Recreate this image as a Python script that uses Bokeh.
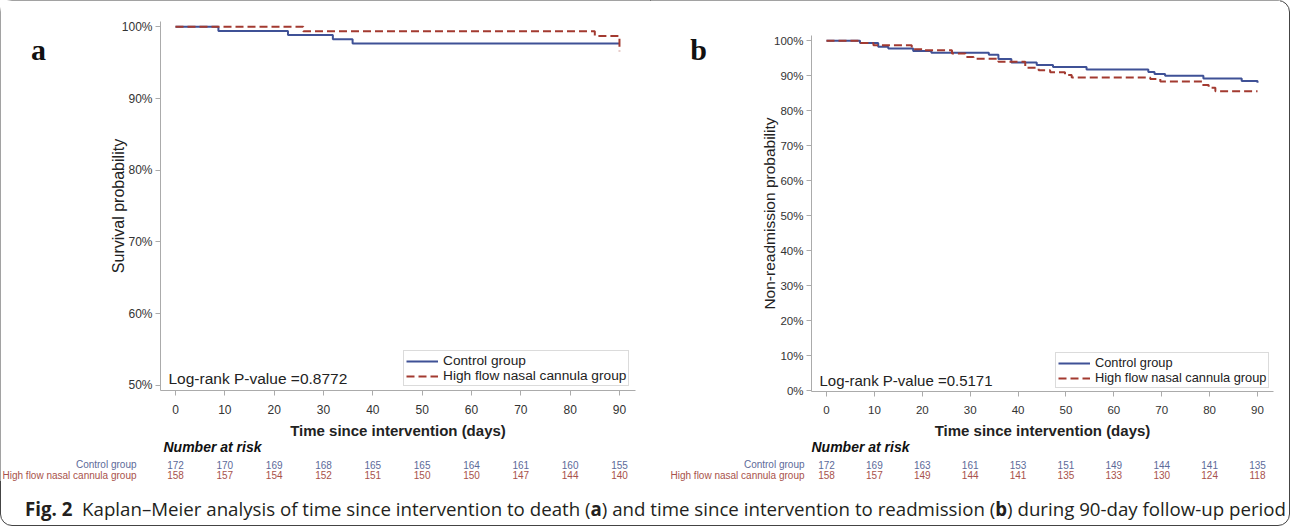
from bokeh.plotting import figure
from bokeh.models import Range1d, FixedTicker, PrintfTickFormatter, Label, Div, ColumnDataSource
from bokeh.layouts import row, column
from bokeh.embed import file_html
from bokeh.resources import INLINE
from bokeh.core.properties import value

# ---------------- data ----------------
risk_days = [0, 10, 20, 30, 40, 50, 60, 70, 80, 90]

# Panel a: survival (%)
a_ctrl_t = [0, 8.7, 22.8, 31.9, 35.9, 90]
a_ctrl_s = [100, 99.42, 98.84, 98.26, 97.67, 97.67]
a_hf_t = [0, 25.9, 85.0, 90]
a_hf_s = [100, 99.37, 98.73, 96.6]

# Panel b: non-readmission (%)
b_ctrl_t = [0, 7.0, 10.8, 12.9, 18.1, 21.9, 33.9, 35.9, 38.6, 43.9, 47.3, 54.3, 67.2, 68.5, 70.7, 78.7, 86.7, 90]
b_ctrl_s = [100, 99.4, 98.3, 97.8, 97.1, 96.6, 96.0, 94.8, 93.8, 93.1, 92.5, 91.8, 91.1, 90.5, 90.0, 89.2, 88.5, 88.0]
b_hf_t = [0, 7.0, 9.8, 17.8, 20.0, 26.2, 29.0, 30.7, 35.9, 41.5, 44.3, 46.7, 49.8, 51.2, 67.6, 69.7, 78.4, 79.8, 81.2, 90]
b_hf_s = [100, 99.4, 98.7, 97.6, 97.3, 96.4, 95.4, 94.9, 94.0, 92.3, 91.6, 91.0, 90.2, 89.5, 89.1, 88.4, 87.4, 86.6, 85.6, 85.6]

a_risk_ctrl = [172, 170, 169, 168, 165, 165, 164, 161, 160, 155]
a_risk_hf = [158, 157, 154, 152, 151, 150, 150, 147, 144, 140]
b_risk_ctrl = [172, 169, 163, 161, 153, 151, 149, 144, 141, 135]
b_risk_hf = [158, 157, 149, 144, 141, 135, 133, 130, 124, 118]

x_ticks = [0, 10, 20, 30, 40, 50, 60, 70, 80, 90]
a_y_ticks = [50, 60, 70, 80, 90, 100]
b_y_ticks = [0, 10, 20, 30, 40, 50, 60, 70, 80, 90, 100]

group_names = ["Control group", "High flow nasal cannula group"]
a_pval = "Log-rank P-value =0.8772"
b_pval = "Log-rank P-value =0.5171"

# ---------------- style / layout ----------------
BLUE = "#3f5196"
RED = "#a33a30"
CTRL_TXT = "#5d6a99"
HF_TXT = "#a8524b"
AX = "#ababab"
TXT = "#333333"
FONT = "Liberation Sans"

OY = 2          # page y of canvas top
FIG_H = 481
CAP_H = 35
A_W = 650
B_W = 630


def km_panel(cfg):
    ox, W = cfg["ox"], cfg["W"]
    d0, dpx, p100, ppx = cfg["day0"], cfg["day_px"], cfg["pct100"], cfg["pct_px"]

    def X(px):
        return (px - d0) / dpx

    def Y(py):
        return 100 - (py - p100) / ppx

    p = figure(width=W, height=FIG_H, x_range=Range1d(X(ox), X(ox + W)),
               y_range=Range1d(Y(OY + FIG_H), Y(OY)), title=None,
               output_backend="svg", toolbar_location=None,
               min_border_left=0, min_border_right=0, min_border_top=0, min_border_bottom=0)
    p.outline_line_color = None
    p.xgrid.visible = False
    p.ygrid.visible = False

    fl, fr, ft, fb = cfg["frame"]  # page coords of axes box
    p.step(cfg["ctrl_t"], cfg["ctrl_s"], mode="after", line_color=BLUE, line_width=2,
           legend_label=group_names[0])
    p.step(cfg["hf_t"], cfg["hf_s"], mode="after", line_color=RED, line_width=2,
           line_dash="8 4", legend_label=group_names[1])

    xa, ya = p.xaxis[0], p.yaxis[0]
    for ax in (xa, ya):
        ax.axis_line_color = AX
        ax.major_tick_line_color = AX
        ax.minor_tick_line_color = None
        ax.major_tick_in = 0
        ax.major_tick_out = 5
        ax.major_label_text_color = TXT
        ax.major_label_text_font = FONT
        ax.axis_label_text_font = FONT
        ax.axis_label_text_color = "#222222"
    xa.major_label_text_font_size = cfg["xfs"]
    ya.major_label_text_font_size = cfg["yfs"]
    xa.ticker = FixedTicker(ticks=x_ticks)
    ya.ticker = FixedTicker(ticks=cfg["yticks"])
    ya.formatter = PrintfTickFormatter(format="%d%%")
    xa.fixed_location = Y(fb)
    xa.bounds = (X(fl), X(fr))
    ya.fixed_location = X(fl)
    ya.bounds = (Y(fb), Y(ft))
    xa.major_label_standoff = 9
    ya.major_label_standoff = 3
    xa.axis_label = "Time since intervention (days)"
    xa.axis_label_text_font_style = "bold"
    xa.axis_label_text_font_size = "15px"
    xa.axis_label_standoff = 5
    ya.axis_label = cfg["ytitle"]
    ya.axis_label_text_font_style = "normal"
    ya.axis_label_text_font_size = cfg["ytfs"]
    ya.axis_label_standoff = cfg["ystand"]

    lg = p.legend[0]
    lx, lb = cfg["legend_lb"]
    lg.location = (lx - ox, OY + FIG_H - lb)
    lg.margin = 0
    lg.padding = 2
    lg.spacing = 0
    lg.label_height = 12
    lg.glyph_height = 12
    lg.glyph_width = 32
    lg.label_standoff = 5
    lg.label_text_font = FONT
    lg.label_text_font_size = cfg["lfs"]
    lg.label_text_color = "#222222"
    lg.border_line_color = "#b8b8b8"
    lg.background_fill_color = "white"
    lg.background_fill_alpha = 1

    px_, py_ = cfg["pval_xy"]
    p.add_layout(Label(x=X(px_), y=Y(py_), text=cfg["pval"], text_font=FONT,
                       text_font_size=cfg["pfs"], text_color="#222222",
                       text_baseline="middle"))
    lx_, ly_ = cfg["letter_xy"]
    p.add_layout(Label(x=X(lx_), y=Y(ly_), text=cfg["letter"],
                       text_font="Liberation Serif", text_font_style="bold",
                       text_font_size="30px", text_color="#111111",
                       text_align="center", text_baseline="alphabetic"))

    # number at risk table
    nx, ny = cfg["nar_xy"]
    p.add_layout(Label(x=X(nx), y=Y(ny), text="Number at risk", text_font=FONT,
                       text_font_size="14px", text_font_style="bold italic",
                       text_color="#111111", text_baseline="middle"))
    r1, r2 = cfg["rows_y"]
    src_c = ColumnDataSource(dict(x=risk_days, y=[Y(r1)] * len(risk_days),
                                  t=[str(v) for v in cfg["risk_ctrl"]]))
    src_h = ColumnDataSource(dict(x=risk_days, y=[Y(r2)] * len(risk_days),
                                  t=[str(v) for v in cfg["risk_hf"]]))
    for src, col in ((src_c, CTRL_TXT), (src_h, HF_TXT)):
        p.text(x="x", y="y", text="t", source=src, text_align="center",
               text_baseline="middle", text_font_size="10px", text_color=col,
               text_font=value(FONT))
    rx = X(cfg["rowlab_x"])
    p.text(x=[rx, rx], y=[Y(r1), Y(r2)], text=group_names, text_align="right",
           text_baseline="middle", text_font_size="10px",
           text_color=[CTRL_TXT, HF_TXT], text_font=value(FONT))
    return p


cfg_a = dict(ox=2, W=A_W, day0=177.0, day_px=4.933, pct100=28.3, pct_px=7.17,
             frame=(162, 637, 23, 392), yticks=a_y_ticks, ytitle="Survival probability",
             ystand=-8, ytfs="16px", xfs="12px", yfs="12px", lfs="13.7px", pfs="15.5px",
             ctrl_t=a_ctrl_t, ctrl_s=a_ctrl_s, hf_t=a_hf_t, hf_s=a_hf_s,
             legend_lb=(405, 388), pval=a_pval, pval_xy=(170, 380),
             letter="a", letter_xy=(40, 51), nar_xy=(165, 448), rows_y=(466, 476.5),
             risk_ctrl=a_risk_ctrl, risk_hf=a_risk_hf, rowlab_x=138)

cfg_b = dict(ox=2 + A_W, W=B_W, day0=828.0, day_px=4.789, pct100=42.3, pct_px=3.5,
             frame=(813, 1275, 36.7, 393), yticks=b_y_ticks, ytitle="Non-readmission probability",
             ystand=-7, ytfs="15.5px", xfs="11.5px", yfs="11.5px", lfs="12.8px", pfs="15px",
             ctrl_t=b_ctrl_t, ctrl_s=b_ctrl_s, hf_t=b_hf_t, hf_s=b_hf_s,
             legend_lb=(1057, 390), pval=b_pval, pval_xy=(821, 382),
             letter="b", letter_xy=(700, 51), nar_xy=(813, 448), rows_y=(466, 476.5),
             risk_ctrl=b_risk_ctrl, risk_hf=b_risk_hf, rowlab_x=806)

pa = km_panel(cfg_a)
pb = km_panel(cfg_b)

caption = Div(
    text='<div style="padding-left:20px; white-space:nowrap">'
         '<b>Fig. 2</b>&nbsp; Kaplan–Meier analysis of time since intervention to death (<b>a</b>) '
         'and time since intervention to readmission (<b>b</b>) during 90-day follow-up period</div>',
    width=A_W + B_W, height=CAP_H,
    styles={"font-family": "Open Sans", "font-size": "18.7px", "color": "#231f20",
            "line-height": "46px", "overflow": "hidden"})

layout = column(row(pa, pb), caption,
                styles={"outline": "1px solid #444444", "outline-offset": "-1px",
                        "border-radius": "12px", "background-color": "white"})

open("out.html", "w").write(file_html(layout, INLINE))
